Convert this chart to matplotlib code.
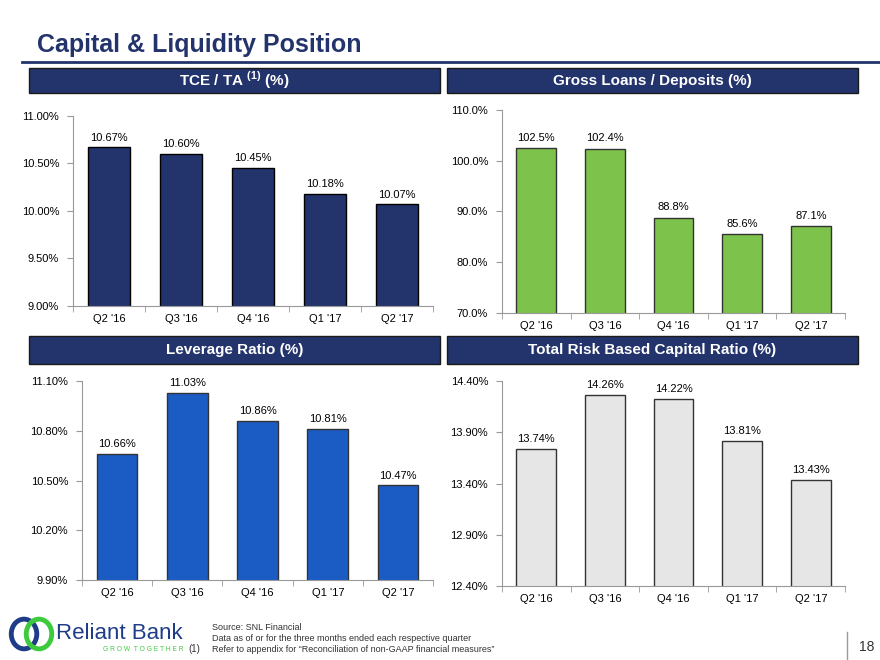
import matplotlib
matplotlib.use('Agg')
import matplotlib.pyplot as plt
from matplotlib.patches import Rectangle, Ellipse
from matplotlib.lines import Line2D

plt.rcParams['font.family'] = ['Liberation Sans', 'DejaVu Sans']
plt.rcParams['mathtext.fontset'] = 'custom'
plt.rcParams['mathtext.rm'] = 'Liberation Sans:bold'
plt.rcParams['mathtext.bf'] = 'Liberation Sans:bold'

quarters = ["Q2 '16", "Q3 '16", "Q4 '16", "Q1 '17", "Q2 '17"]

tce_ta = [10.67, 10.60, 10.45, 10.18, 10.07]
loans_deposits = [102.5, 102.4, 88.8, 85.6, 87.1]
leverage = [10.66, 11.03, 10.86, 10.81, 10.47]
total_rbc = [13.74, 14.26, 14.22, 13.81, 13.43]

navy = '#23336B'
green = '#7DC24B'
blue = '#1A5BC4'
gray = '#E6E6E6'
logo_blue = '#1F3C88'
logo_green = '#3DCB3D'

fig = plt.figure(figsize=(8.8, 6.6), dpi=100)

# page title and rule
fig.text(0.042, 0.932, 'Capital & Liquidity Position', fontsize=18, fontweight='bold',
         color=navy, va='center', ha='left')
fig.add_artist(Line2D([0.025, 1.0], [0.906, 0.906], color=navy, lw=2))


def header(x0, y0, w, h, label):
    fig.add_artist(Rectangle((x0, y0), w, h, transform=fig.transFigure,
                             facecolor=navy, edgecolor='#1a1a1a', lw=1))
    fig.text(x0 + w / 2, y0 + h / 2, label, color='white', fontsize=11,
             fontweight='bold', ha='center', va='center')


def bar_panel(rect, vals, color, ylim, yticks, fmt, edge='black'):
    ax = fig.add_axes(rect)
    x = range(len(vals))
    ax.bar(x, vals, width=0.58, color=color, edgecolor=edge, linewidth=1, bottom=0)
    ax.set_xlim(-0.5, len(vals) - 0.5)
    ax.set_ylim(*ylim)
    ax.set_yticks(yticks)
    ax.set_yticklabels([fmt.format(t) + '%' for t in yticks], fontsize=8)
    ax.set_xticks(list(x))
    ax.set_xticklabels(quarters, fontsize=8)
    ax.set_xticks([i - 0.5 for i in range(len(vals) + 1)], minor=True)
    ax.tick_params(axis='x', which='major', length=0, pad=6)
    ax.tick_params(axis='x', which='minor', length=4, color='#999999')
    ax.tick_params(axis='y', length=4, color='#999999', pad=6)
    for s in ['top', 'right']:
        ax.spines[s].set_visible(False)
    for s in ['left', 'bottom']:
        ax.spines[s].set_color('#999999')
    span = ylim[1] - ylim[0]
    for i, v in enumerate(vals):
        ax.text(i, v + span * 0.025, fmt.format(v) + '%', ha='center', va='bottom', fontsize=8)
    return ax


header(0.033, 0.859, 0.467, 0.038, r'TCE / TA $^{\mathregular{(1)}}$ (%)')
header(0.508, 0.859, 0.467, 0.038, 'Gross Loans / Deposits (%)')
header(0.033, 0.4485, 0.467, 0.042, 'Leverage Ratio (%)')
header(0.508, 0.4485, 0.467, 0.042, 'Total Risk Based Capital Ratio (%)')

bar_panel([0.083, 0.5364, 0.409, 0.2879], tce_ta, navy, (9.0, 11.0),
          [9.0, 9.5, 10.0, 10.5, 11.0], '{:.2f}')
bar_panel([0.5705, 0.5258, 0.3898, 0.3076], loans_deposits, green, (70, 110),
          [70, 80, 90, 100, 110], '{:.1f}', edge='#333333')
bar_panel([0.0932, 0.1212, 0.399, 0.3015], leverage, blue, (9.9, 11.1),
          [9.9, 10.2, 10.5, 10.8, 11.1], '{:.2f}', edge='#333333')
bar_panel([0.5705, 0.1121, 0.3898, 0.3106], total_rbc, gray, (12.4, 14.4),
          [12.4, 12.9, 13.4, 13.9, 14.4], '{:.2f}', edge='#333333')

# footer logo
fig.add_artist(Ellipse((0.0273, 0.0394), 0.029, 0.045, transform=fig.transFigure,
                       fill=False, edgecolor=logo_blue, lw=3.5))
fig.add_artist(Ellipse((0.0443, 0.0394), 0.029, 0.045, transform=fig.transFigure,
                       fill=False, edgecolor=logo_green, lw=3.5))
fig.text(0.064, 0.040, 'Reliant Bank', fontsize=16, color=logo_blue, va='center', ha='left')
fig.text(0.117, 0.016, 'G R O W  T O G E T H E R', fontsize=4.8, color=logo_green,
         va='center', ha='left')
fig.text(0.214, 0.016, '(1)', fontsize=7, color='#333333', va='center', ha='left')

fig.text(0.241, 0.050, 'Source: SNL Financial', fontsize=6.5, color='#333333', va='center')
fig.text(0.241, 0.033, 'Data as of or for the three months ended each respective quarter',
         fontsize=6.5, color='#333333', va='center')
fig.text(0.241, 0.016, 'Refer to appendix for \u201cReconciliation of non-GAAP financial measures\u201d',
         fontsize=6.5, color='#333333', va='center')

fig.add_artist(Line2D([0.963, 0.963], [0.0, 0.042], color='#999999', lw=1))
fig.text(0.985, 0.020, '18', fontsize=10, color='#333333', va='center', ha='center')

fig.savefig('out.png', dpi=100)
